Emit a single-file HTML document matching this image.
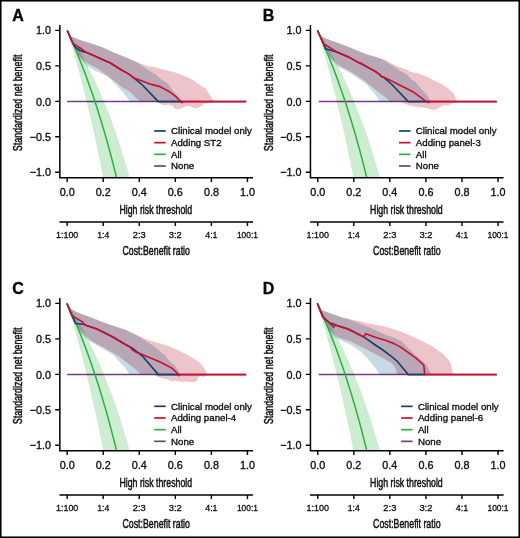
<!DOCTYPE html>
<html><head><meta charset="utf-8"><style>
html,body{margin:0;padding:0;background:#fff;}
body{width:520px;height:538px;position:relative;overflow:hidden;}
svg{position:absolute;left:0;top:0;}
text{font-family:"Liberation Sans",sans-serif;fill:#000;}
.tk{font-size:10.8px;fill:#111;stroke:#111;stroke-width:0.35px;}
.rt{font-size:8.2px;fill:#111;stroke:#111;stroke-width:0.3px;}
.ti{font-size:12.4px;fill:#111;stroke:#111;stroke-width:0.5px;}
.lt{font-size:16px;font-weight:bold;stroke:#000;stroke-width:0.3px;}
.lg{font-size:9.7px;fill:#111;stroke:#111;stroke-width:0.35px;}
</style></head><body>
<svg width="520" height="538" viewBox="0 0 520 538">
<rect x="0" y="0" width="520" height="538" fill="#fff"/>
<g transform="translate(0,0)">
<polyline points="67.20,101.60 246.20,101.60" fill="none" stroke="#754080" stroke-width="1.5"/>
<polygon points="67.15,30.40 68.65,35.35 70.16,40.38 71.66,45.50 73.16,50.71 74.66,56.00 76.17,61.39 77.67,66.88 79.17,72.46 80.67,78.15 82.18,83.93 83.68,89.83 85.18,95.83 86.68,101.95 88.19,108.18 89.69,114.53 91.19,121.00 92.69,127.59 94.20,134.32 95.70,141.18 97.20,148.18 98.70,155.32 100.21,162.60 101.71,170.03 103.13,177.20 129.65,177.20 128.75,174.01 127.25,168.75 125.75,163.63 124.25,158.63 122.74,153.75 121.24,148.99 119.74,144.34 118.24,139.79 116.73,135.36 115.23,131.02 113.73,126.78 112.23,122.63 110.72,118.58 109.22,114.61 107.72,110.73 106.22,106.94 104.71,103.22 103.21,99.58 101.71,96.01 100.21,92.52 98.70,89.09 97.20,85.74 95.70,82.45 94.20,79.23 92.69,76.07 91.19,72.97 89.69,69.93 88.19,66.95 86.68,64.02 85.18,61.14 83.68,58.32 82.18,55.55 80.67,52.84 79.17,50.16 77.67,47.54 76.17,44.96 74.66,42.43 73.16,39.94 71.66,37.49 70.16,35.09 68.65,32.73 67.15,30.40" fill="rgb(205,236,210)" style="mix-blend-mode:multiply"/>
<polygon points="67.30,30.50 70.60,36.50 75.00,37.80 79.40,39.80 87.10,42.20 94.80,44.50 104.00,47.90 113.75,52.60 125.00,56.90 132.70,60.40 140.40,64.60 148.10,70.00 155.80,74.60 161.90,80.00 164.60,81.20 168.30,84.00 172.30,90.00 176.00,94.00 179.60,99.60 181.20,101.60 130.20,101.60 125.20,95.10 120.60,90.00 116.00,84.90 110.00,78.80 106.25,75.60 100.00,73.10 93.75,70.00 87.50,66.25 82.50,61.25 78.75,57.50 72.80,44.00" fill="rgb(200,218,228)" style="mix-blend-mode:multiply"/>
<polygon points="67.30,30.50 70.60,36.50 75.00,37.80 79.40,39.80 87.10,42.20 94.80,44.50 104.00,47.90 113.75,52.60 125.00,56.90 132.70,60.00 140.40,63.50 148.10,66.20 155.80,67.30 160.00,68.50 167.70,70.50 175.40,72.40 183.10,75.50 190.80,78.50 198.10,83.80 205.80,88.50 208.10,92.30 211.20,96.90 213.50,100.80 213.50,102.30 204.20,103.80 201.20,106.20 195.80,108.50 190.40,106.50 186.50,106.20 182.70,107.70 178.10,109.60 175.00,108.80 172.90,106.30 168.30,104.40 162.90,105.20 159.00,102.50 156.00,101.60 140.60,101.60 134.50,96.50 129.80,91.40 122.90,87.70 118.30,84.00 110.00,77.70 97.50,68.50 86.25,62.50 78.75,55.60 72.80,44.00" fill="rgb(238,196,203)" style="mix-blend-mode:multiply"/>
<polyline points="67.15,30.40 68.65,33.68 70.16,37.01 71.66,40.41 73.16,43.86 74.66,47.37 76.17,50.94 77.67,54.57 79.17,58.27 80.67,62.04 82.18,65.88 83.68,69.78 85.18,73.76 86.68,77.81 88.19,81.94 89.69,86.15 91.19,90.43 92.69,94.81 94.20,99.26 95.70,103.81 97.20,108.44 98.70,113.17 100.21,118.00 101.71,122.93 103.21,127.96 104.71,133.09 106.22,138.33 107.72,143.69 109.22,149.16 110.72,154.76 112.23,160.47 113.73,166.32 115.23,172.30 116.44,177.20" fill="none" stroke="#2ab33e" stroke-width="1.5"/>
<polyline points="67.30,30.50 72.80,43.30 74.80,46.80 79.40,50.20 84.00,52.00 85.50,52.00 94.80,56.00 104.00,60.20 110.00,62.80 121.50,70.00 125.00,71.90 129.60,74.60 133.50,77.70 141.40,84.00 158.30,101.60 182.70,101.60" fill="none" stroke="#163e6b" stroke-width="1.6"/>
<polyline points="67.30,30.50 72.80,43.30 79.40,47.50 85.50,52.00 94.80,56.00 104.00,60.20 110.00,62.80 121.50,70.00 125.00,71.90 129.60,74.60 133.50,77.70 140.80,80.40 151.40,84.40 160.00,86.60 168.50,91.20 176.00,96.70 182.00,102.60 183.20,101.60 246.20,101.60" fill="none" stroke="#d00c32" stroke-width="1.6"/>
<path d="M59.85,25 V178.6 M59.1,177.85 H253" stroke="#000" stroke-width="1.5" fill="none"/>
<path d="M55.2,30.40 H59.85 M55.2,65.88 H59.85 M55.2,101.35 H59.85 M55.2,136.82 H59.85 M55.2,172.30 H59.85 M67.15,177.85 V182.1 M103.21,177.85 V182.1 M139.27,177.85 V182.1 M175.33,177.85 V182.1 M211.39,177.85 V182.1 M247.45,177.85 V182.1 " stroke="#000" stroke-width="1.4" fill="none"/>
<path d="M59.5,221.9 H253" stroke="#000" stroke-width="1.5" fill="none"/>
<path d="M67.15,221.9 V226 M103.21,221.9 V226 M139.27,221.9 V226 M175.33,221.9 V226 M211.39,221.9 V226 M247.45,221.9 V226 " stroke="#000" stroke-width="1.4" fill="none"/>
<text x="51" y="34.20" text-anchor="end" class="tk">1.0</text>
<text x="51" y="70.08" text-anchor="end" class="tk">0.5</text>
<text x="51" y="105.55" text-anchor="end" class="tk">0.0</text>
<text x="51" y="141.22" text-anchor="end" class="tk">−0.5</text>
<text x="51" y="175.80" text-anchor="end" class="tk">−1.0</text>
<text x="67.15" y="195.5" text-anchor="middle" class="tk">0.0</text>
<text x="103.21" y="195.5" text-anchor="middle" class="tk">0.2</text>
<text x="139.27" y="195.5" text-anchor="middle" class="tk">0.4</text>
<text x="175.33" y="195.5" text-anchor="middle" class="tk">0.6</text>
<text x="211.39" y="195.5" text-anchor="middle" class="tk">0.8</text>
<text x="247.45" y="195.5" text-anchor="middle" class="tk">1.0</text>
<text x="67.15" y="238.2" text-anchor="middle" class="rt" textLength="22.30" lengthAdjust="spacingAndGlyphs">1:100</text>
<text x="103.21" y="238.2" text-anchor="middle" class="rt" textLength="11.90" lengthAdjust="spacingAndGlyphs">1:4</text>
<text x="139.27" y="238.2" text-anchor="middle" class="rt" textLength="13.00" lengthAdjust="spacingAndGlyphs">2:3</text>
<text x="175.33" y="238.2" text-anchor="middle" class="rt" textLength="13.00" lengthAdjust="spacingAndGlyphs">3:2</text>
<text x="211.39" y="238.2" text-anchor="middle" class="rt" textLength="12.30" lengthAdjust="spacingAndGlyphs">4:1</text>
<text x="247.45" y="238.2" text-anchor="middle" class="rt" textLength="21.00" lengthAdjust="spacingAndGlyphs">100:1</text>
<text x="155.8" y="213.5" text-anchor="middle" class="ti" textLength="72.7" lengthAdjust="spacingAndGlyphs">High risk threshold</text>
<text x="156.2" y="255.1" text-anchor="middle" class="ti" textLength="67.5" lengthAdjust="spacingAndGlyphs">Cost:Benefit ratio</text>
<text transform="translate(21.9,102.9) rotate(-90)" x="0" y="0" text-anchor="middle" class="ti" textLength="96.6" lengthAdjust="spacingAndGlyphs">Standardized net benefit</text>
<text x="12.2" y="20.6" class="lt">A</text>
<path d="M154.20,131.00 H165.70" stroke="#163e6b" stroke-width="1.7"/>
<text x="171.00" y="134.40" class="lg">Clinical model only</text>
<path d="M154.20,142.67 H165.70" stroke="#d00c32" stroke-width="1.7"/>
<text x="171.00" y="146.07" class="lg">Adding ST2</text>
<path d="M154.20,154.34 H165.70" stroke="#2ab33e" stroke-width="1.7"/>
<text x="171.00" y="157.74" class="lg">All</text>
<path d="M154.20,166.01 H165.70" stroke="#754080" stroke-width="1.7"/>
<text x="171.00" y="169.41" class="lg">None</text>
</g>
<g transform="translate(250.6,0)">
<polyline points="68.10,101.60 246.20,101.60" fill="none" stroke="#754080" stroke-width="1.5"/>
<polygon points="66.75,30.40 68.25,35.35 69.75,40.38 71.26,45.50 72.76,50.71 74.26,56.00 75.77,61.39 77.27,66.88 78.77,72.46 80.27,78.15 81.78,83.93 83.28,89.83 84.78,95.83 86.28,101.95 87.78,108.18 89.29,114.53 90.79,121.00 92.29,127.59 93.80,134.32 95.30,141.18 96.80,148.18 98.30,155.32 99.81,162.60 101.31,170.03 102.73,177.20 129.25,177.20 128.35,174.01 126.85,168.75 125.35,163.63 123.84,158.63 122.34,153.75 120.84,148.99 119.34,144.34 117.84,139.79 116.33,135.36 114.83,131.02 113.33,126.78 111.83,122.63 110.32,118.58 108.82,114.61 107.32,110.73 105.81,106.94 104.31,103.22 102.81,99.58 101.31,96.01 99.81,92.52 98.30,89.09 96.80,85.74 95.30,82.45 93.80,79.23 92.29,76.07 90.79,72.97 89.29,69.93 87.78,66.95 86.28,64.02 84.78,61.14 83.28,58.32 81.78,55.55 80.27,52.84 78.77,50.16 77.27,47.54 75.77,44.96 74.26,42.43 72.76,39.94 71.26,37.49 69.75,35.09 68.25,32.73 66.75,30.40" fill="rgb(205,236,210)" style="mix-blend-mode:multiply"/>
<polygon points="66.90,30.50 70.40,36.25 79.20,40.00 91.60,44.40 104.20,49.40 116.60,54.40 125.40,56.90 133.10,60.00 140.80,65.00 148.50,70.00 156.20,74.60 161.60,80.00 165.00,82.00 169.60,87.40 172.70,91.00 175.40,94.00 179.20,99.20 180.00,101.60 129.20,101.60 124.60,94.20 120.00,89.10 116.30,84.50 110.40,80.50 104.20,76.00 100.40,73.50 95.40,70.50 88.00,67.00 85.00,64.00 79.20,58.50 72.90,44.00" fill="rgb(200,218,228)" style="mix-blend-mode:multiply"/>
<polygon points="66.90,30.50 70.40,36.25 79.20,40.00 91.60,44.40 104.20,49.40 116.60,54.40 125.40,56.90 133.10,59.60 140.80,63.50 148.50,66.90 156.20,69.60 160.40,72.00 168.10,73.50 175.80,76.60 183.50,80.50 191.20,84.30 198.50,89.20 203.10,93.80 205.40,98.50 206.20,101.20 204.60,103.00 200.80,103.80 198.50,105.40 194.60,105.00 190.80,106.50 186.90,108.80 183.10,110.00 175.40,108.00 167.70,107.00 162.30,106.30 154.60,104.00 150.80,102.00 149.00,101.60 139.60,101.60 133.90,96.50 129.20,93.20 124.60,89.50 117.70,84.00 112.90,80.00 100.40,71.90 87.90,65.00 79.00,56.00 72.90,44.00" fill="rgb(238,196,203)" style="mix-blend-mode:multiply"/>
<polyline points="66.75,30.40 68.25,33.68 69.75,37.01 71.26,40.41 72.76,43.86 74.26,47.37 75.77,50.94 77.27,54.57 78.77,58.27 80.27,62.04 81.78,65.88 83.28,69.78 84.78,73.76 86.28,77.81 87.78,81.94 89.29,86.15 90.79,90.43 92.29,94.81 93.80,99.26 95.30,103.81 96.80,108.44 98.30,113.17 99.81,118.00 101.31,122.93 102.81,127.96 104.31,133.09 105.81,138.33 107.32,143.69 108.82,149.16 110.32,154.76 111.83,160.47 113.33,166.32 114.83,172.30 116.04,177.20" fill="none" stroke="#2ab33e" stroke-width="1.5"/>
<polyline points="66.90,30.50 72.90,43.60 74.80,48.75 79.20,50.00 86.00,52.00 97.90,56.90 106.60,61.90 110.40,63.50 125.40,71.90 130.00,75.40 131.00,76.60 133.10,77.30 140.80,84.00 157.70,101.60 179.00,101.60" fill="none" stroke="#163e6b" stroke-width="1.6"/>
<polyline points="66.90,30.50 72.90,43.60 79.20,47.60 85.40,51.50 97.90,56.90 106.60,61.90 110.40,63.50 125.40,71.90 130.00,75.40 131.00,76.60 133.10,77.30 138.50,79.60 146.90,84.00 162.30,91.70 173.80,100.20 177.50,102.60 179.00,101.60 246.20,101.60" fill="none" stroke="#d00c32" stroke-width="1.6"/>
<path d="M59.85,25 V178.6 M59.1,177.85 H253" stroke="#000" stroke-width="1.5" fill="none"/>
<path d="M55.2,30.40 H59.85 M55.2,65.88 H59.85 M55.2,101.35 H59.85 M55.2,136.82 H59.85 M55.2,172.30 H59.85 M67.15,177.85 V182.1 M103.21,177.85 V182.1 M139.27,177.85 V182.1 M175.33,177.85 V182.1 M211.39,177.85 V182.1 M247.45,177.85 V182.1 " stroke="#000" stroke-width="1.4" fill="none"/>
<path d="M59.5,221.9 H253" stroke="#000" stroke-width="1.5" fill="none"/>
<path d="M67.15,221.9 V226 M103.21,221.9 V226 M139.27,221.9 V226 M175.33,221.9 V226 M211.39,221.9 V226 M247.45,221.9 V226 " stroke="#000" stroke-width="1.4" fill="none"/>
<text x="51" y="34.20" text-anchor="end" class="tk">1.0</text>
<text x="51" y="70.08" text-anchor="end" class="tk">0.5</text>
<text x="51" y="105.55" text-anchor="end" class="tk">0.0</text>
<text x="51" y="141.22" text-anchor="end" class="tk">−0.5</text>
<text x="51" y="175.80" text-anchor="end" class="tk">−1.0</text>
<text x="67.15" y="195.5" text-anchor="middle" class="tk">0.0</text>
<text x="103.21" y="195.5" text-anchor="middle" class="tk">0.2</text>
<text x="139.27" y="195.5" text-anchor="middle" class="tk">0.4</text>
<text x="175.33" y="195.5" text-anchor="middle" class="tk">0.6</text>
<text x="211.39" y="195.5" text-anchor="middle" class="tk">0.8</text>
<text x="247.45" y="195.5" text-anchor="middle" class="tk">1.0</text>
<text x="67.15" y="238.2" text-anchor="middle" class="rt" textLength="22.30" lengthAdjust="spacingAndGlyphs">1:100</text>
<text x="103.21" y="238.2" text-anchor="middle" class="rt" textLength="11.90" lengthAdjust="spacingAndGlyphs">1:4</text>
<text x="139.27" y="238.2" text-anchor="middle" class="rt" textLength="13.00" lengthAdjust="spacingAndGlyphs">2:3</text>
<text x="175.33" y="238.2" text-anchor="middle" class="rt" textLength="13.00" lengthAdjust="spacingAndGlyphs">3:2</text>
<text x="211.39" y="238.2" text-anchor="middle" class="rt" textLength="12.30" lengthAdjust="spacingAndGlyphs">4:1</text>
<text x="247.45" y="238.2" text-anchor="middle" class="rt" textLength="21.00" lengthAdjust="spacingAndGlyphs">100:1</text>
<text x="155.8" y="213.5" text-anchor="middle" class="ti" textLength="72.7" lengthAdjust="spacingAndGlyphs">High risk threshold</text>
<text x="156.2" y="255.1" text-anchor="middle" class="ti" textLength="67.5" lengthAdjust="spacingAndGlyphs">Cost:Benefit ratio</text>
<text transform="translate(21.9,102.9) rotate(-90)" x="0" y="0" text-anchor="middle" class="ti" textLength="96.6" lengthAdjust="spacingAndGlyphs">Standardized net benefit</text>
<text x="12.2" y="20.6" class="lt">B</text>
<path d="M148.40,131.00 H159.90" stroke="#163e6b" stroke-width="1.7"/>
<text x="165.20" y="134.40" class="lg">Clinical model only</text>
<path d="M148.40,142.67 H159.90" stroke="#d00c32" stroke-width="1.7"/>
<text x="165.20" y="146.07" class="lg">Adding panel-3</text>
<path d="M148.40,154.34 H159.90" stroke="#2ab33e" stroke-width="1.7"/>
<text x="165.20" y="157.74" class="lg">All</text>
<path d="M148.40,166.01 H159.90" stroke="#754080" stroke-width="1.7"/>
<text x="165.20" y="169.41" class="lg">None</text>
</g>
<g transform="translate(0,273)">
<polyline points="67.20,101.60 246.20,101.60" fill="none" stroke="#754080" stroke-width="1.5"/>
<polygon points="67.15,30.40 68.65,35.35 70.16,40.38 71.66,45.50 73.16,50.71 74.66,56.00 76.17,61.39 77.67,66.88 79.17,72.46 80.67,78.15 82.18,83.93 83.68,89.83 85.18,95.83 86.68,101.95 88.19,108.18 89.69,114.53 91.19,121.00 92.69,127.59 94.20,134.32 95.70,141.18 97.20,148.18 98.70,155.32 100.21,162.60 101.71,170.03 103.13,177.20 129.65,177.20 128.75,174.01 127.25,168.75 125.75,163.63 124.25,158.63 122.74,153.75 121.24,148.99 119.74,144.34 118.24,139.79 116.73,135.36 115.23,131.02 113.73,126.78 112.23,122.63 110.72,118.58 109.22,114.61 107.72,110.73 106.22,106.94 104.71,103.22 103.21,99.58 101.71,96.01 100.21,92.52 98.70,89.09 97.20,85.74 95.70,82.45 94.20,79.23 92.69,76.07 91.19,72.97 89.69,69.93 88.19,66.95 86.68,64.02 85.18,61.14 83.68,58.32 82.18,55.55 80.67,52.84 79.17,50.16 77.67,47.54 76.17,44.96 74.66,42.43 73.16,39.94 71.66,37.49 70.16,35.09 68.65,32.73 67.15,30.40" fill="rgb(205,236,210)" style="mix-blend-mode:multiply"/>
<polygon points="66.90,30.50 70.00,35.60 78.75,40.00 91.25,44.40 103.75,49.40 116.25,53.75 125.00,56.50 132.70,60.40 140.40,64.60 148.10,69.60 155.80,74.60 161.90,80.00 164.60,82.00 169.20,87.40 171.50,90.00 175.00,92.70 178.80,98.50 180.40,101.60 129.60,101.60 125.20,95.10 120.60,90.00 116.00,84.90 112.50,81.50 100.00,73.90 90.00,68.50 82.50,62.00 78.75,58.00 71.90,43.50" fill="rgb(200,218,228)" style="mix-blend-mode:multiply"/>
<polygon points="66.90,30.50 70.00,35.60 78.75,40.00 91.25,44.40 103.75,49.40 116.25,53.75 125.00,56.50 132.70,60.00 140.40,63.80 148.10,66.90 155.80,69.20 160.00,70.50 167.70,72.80 175.40,75.80 183.10,79.70 190.40,83.50 198.10,88.50 202.70,93.10 205.80,97.70 206.50,100.40 205.80,102.30 203.50,104.60 201.20,103.10 198.10,104.60 196.50,108.50 191.90,109.20 186.50,108.50 182.70,108.80 175.00,107.50 172.90,108.60 166.80,106.30 159.10,104.40 155.20,102.50 153.00,101.60 141.40,101.60 134.50,95.50 129.80,91.80 125.20,88.60 119.70,84.00 116.00,81.50 100.00,72.50 90.00,66.90 79.00,56.00 71.90,43.50" fill="rgb(238,196,203)" style="mix-blend-mode:multiply"/>
<polyline points="67.15,30.40 68.65,33.68 70.16,37.01 71.66,40.41 73.16,43.86 74.66,47.37 76.17,50.94 77.67,54.57 79.17,58.27 80.67,62.04 82.18,65.88 83.68,69.78 85.18,73.76 86.68,77.81 88.19,81.94 89.69,86.15 91.19,90.43 92.69,94.81 94.20,99.26 95.70,103.81 97.20,108.44 98.70,113.17 100.21,118.00 101.71,122.93 103.21,127.96 104.71,133.09 106.22,138.33 107.72,143.69 109.22,149.16 110.72,154.76 112.23,160.47 113.73,166.32 115.23,172.30 116.44,177.20" fill="none" stroke="#2ab33e" stroke-width="1.5"/>
<polyline points="66.90,30.50 71.90,42.70 75.60,50.60 83.75,51.25 85.00,51.90 97.50,56.25 100.00,57.50 112.50,63.75 125.00,71.20 129.60,73.80 132.70,75.40 137.30,79.20 143.30,84.00 158.30,101.60 180.00,101.60" fill="none" stroke="#163e6b" stroke-width="1.6"/>
<polyline points="66.90,30.50 71.90,42.70 82.50,48.75 85.00,51.90 97.50,56.25 100.00,57.50 112.50,63.75 125.00,71.20 129.60,73.80 131.90,76.50 136.50,79.60 140.00,80.60 146.80,83.60 158.50,88.30 165.00,91.50 171.90,95.10 176.50,99.50 178.80,102.60 180.20,101.60 246.20,101.60" fill="none" stroke="#d00c32" stroke-width="1.6"/>
<path d="M59.85,25 V178.6 M59.1,177.85 H253" stroke="#000" stroke-width="1.5" fill="none"/>
<path d="M55.2,30.40 H59.85 M55.2,65.88 H59.85 M55.2,101.35 H59.85 M55.2,136.82 H59.85 M55.2,172.30 H59.85 M67.15,177.85 V182.1 M103.21,177.85 V182.1 M139.27,177.85 V182.1 M175.33,177.85 V182.1 M211.39,177.85 V182.1 M247.45,177.85 V182.1 " stroke="#000" stroke-width="1.4" fill="none"/>
<path d="M59.5,221.9 H253" stroke="#000" stroke-width="1.5" fill="none"/>
<path d="M67.15,221.9 V226 M103.21,221.9 V226 M139.27,221.9 V226 M175.33,221.9 V226 M211.39,221.9 V226 M247.45,221.9 V226 " stroke="#000" stroke-width="1.4" fill="none"/>
<text x="51" y="34.20" text-anchor="end" class="tk">1.0</text>
<text x="51" y="70.08" text-anchor="end" class="tk">0.5</text>
<text x="51" y="105.55" text-anchor="end" class="tk">0.0</text>
<text x="51" y="141.22" text-anchor="end" class="tk">−0.5</text>
<text x="51" y="175.80" text-anchor="end" class="tk">−1.0</text>
<text x="67.15" y="195.5" text-anchor="middle" class="tk">0.0</text>
<text x="103.21" y="195.5" text-anchor="middle" class="tk">0.2</text>
<text x="139.27" y="195.5" text-anchor="middle" class="tk">0.4</text>
<text x="175.33" y="195.5" text-anchor="middle" class="tk">0.6</text>
<text x="211.39" y="195.5" text-anchor="middle" class="tk">0.8</text>
<text x="247.45" y="195.5" text-anchor="middle" class="tk">1.0</text>
<text x="67.15" y="238.2" text-anchor="middle" class="rt" textLength="22.30" lengthAdjust="spacingAndGlyphs">1:100</text>
<text x="103.21" y="238.2" text-anchor="middle" class="rt" textLength="11.90" lengthAdjust="spacingAndGlyphs">1:4</text>
<text x="139.27" y="238.2" text-anchor="middle" class="rt" textLength="13.00" lengthAdjust="spacingAndGlyphs">2:3</text>
<text x="175.33" y="238.2" text-anchor="middle" class="rt" textLength="13.00" lengthAdjust="spacingAndGlyphs">3:2</text>
<text x="211.39" y="238.2" text-anchor="middle" class="rt" textLength="12.30" lengthAdjust="spacingAndGlyphs">4:1</text>
<text x="247.45" y="238.2" text-anchor="middle" class="rt" textLength="21.00" lengthAdjust="spacingAndGlyphs">100:1</text>
<text x="155.8" y="213.5" text-anchor="middle" class="ti" textLength="72.7" lengthAdjust="spacingAndGlyphs">High risk threshold</text>
<text x="156.2" y="255.1" text-anchor="middle" class="ti" textLength="67.5" lengthAdjust="spacingAndGlyphs">Cost:Benefit ratio</text>
<text transform="translate(21.9,102.9) rotate(-90)" x="0" y="0" text-anchor="middle" class="ti" textLength="96.6" lengthAdjust="spacingAndGlyphs">Standardized net benefit</text>
<text x="12.2" y="20.6" class="lt">C</text>
<path d="M154.20,133.30 H165.70" stroke="#163e6b" stroke-width="1.7"/>
<text x="171.00" y="136.70" class="lg">Clinical model only</text>
<path d="M154.20,144.97 H165.70" stroke="#d00c32" stroke-width="1.7"/>
<text x="171.00" y="148.37" class="lg">Adding panel-4</text>
<path d="M154.20,156.64 H165.70" stroke="#2ab33e" stroke-width="1.7"/>
<text x="171.00" y="160.04" class="lg">All</text>
<path d="M154.20,168.31 H165.70" stroke="#754080" stroke-width="1.7"/>
<text x="171.00" y="171.71" class="lg">None</text>
</g>
<g transform="translate(250.6,273)">
<polyline points="68.10,101.60 246.20,101.60" fill="none" stroke="#754080" stroke-width="1.5"/>
<polygon points="66.75,30.40 68.25,35.35 69.75,40.38 71.26,45.50 72.76,50.71 74.26,56.00 75.77,61.39 77.27,66.88 78.77,72.46 80.27,78.15 81.78,83.93 83.28,89.83 84.78,95.83 86.28,101.95 87.78,108.18 89.29,114.53 90.79,121.00 92.29,127.59 93.80,134.32 95.30,141.18 96.80,148.18 98.30,155.32 99.81,162.60 101.31,170.03 102.73,177.20 129.25,177.20 128.35,174.01 126.85,168.75 125.35,163.63 123.84,158.63 122.34,153.75 120.84,148.99 119.34,144.34 117.84,139.79 116.33,135.36 114.83,131.02 113.33,126.78 111.83,122.63 110.32,118.58 108.82,114.61 107.32,110.73 105.81,106.94 104.31,103.22 102.81,99.58 101.31,96.01 99.81,92.52 98.30,89.09 96.80,85.74 95.30,82.45 93.80,79.23 92.29,76.07 90.79,72.97 89.29,69.93 87.78,66.95 86.28,64.02 84.78,61.14 83.28,58.32 81.78,55.55 80.27,52.84 78.77,50.16 77.27,47.54 75.77,44.96 74.26,42.43 72.76,39.94 71.26,37.49 69.75,35.09 68.25,32.73 66.75,30.40" fill="rgb(205,236,210)" style="mix-blend-mode:multiply"/>
<polygon points="66.65,30.30 70.40,36.90 79.20,40.00 91.60,44.40 95.40,45.50 103.10,48.20 110.80,51.20 118.50,54.30 126.20,57.80 135.40,62.00 143.10,64.60 150.80,68.10 156.20,73.50 165.40,82.80 173.10,89.20 176.90,93.80 180.80,101.60 129.20,101.60 124.20,94.20 119.60,88.60 115.50,84.00 110.40,78.75 100.40,71.90 87.90,66.25 85.40,65.00 79.20,60.00 72.30,45.00" fill="rgb(200,218,228)" style="mix-blend-mode:multiply"/>
<polygon points="66.65,30.30 70.40,36.90 79.20,40.00 91.60,44.40 95.40,45.10 103.10,47.00 110.80,48.50 118.50,50.50 126.20,52.00 135.40,53.80 143.10,56.20 150.80,58.80 158.50,61.90 165.40,65.10 173.10,68.90 180.80,72.80 188.50,78.20 192.30,80.50 196.20,85.10 199.20,88.50 200.80,92.30 201.90,99.20 202.20,101.60 146.90,101.60 144.60,94.70 140.80,90.10 133.10,85.50 125.40,81.40 112.90,75.00 100.40,68.75 87.90,64.40 79.00,57.00 72.30,45.00" fill="rgb(238,196,203)" style="mix-blend-mode:multiply"/>
<polyline points="66.75,30.40 68.25,33.68 69.75,37.01 71.26,40.41 72.76,43.86 74.26,47.37 75.77,50.94 77.27,54.57 78.77,58.27 80.27,62.04 81.78,65.88 83.28,69.78 84.78,73.76 86.28,77.81 87.78,81.94 89.29,86.15 90.79,90.43 92.29,94.81 93.80,99.26 95.30,103.81 96.80,108.44 98.30,113.17 99.81,118.00 101.31,122.93 102.81,127.96 104.31,133.09 105.81,138.33 107.32,143.69 108.82,149.16 110.32,154.76 111.83,160.47 113.33,166.32 114.83,172.30 116.04,177.20" fill="none" stroke="#2ab33e" stroke-width="1.5"/>
<polyline points="66.65,30.30 72.30,44.20 79.80,50.60 81.60,50.60 84.80,51.90 97.90,56.25 113.10,63.90 125.40,72.50 132.30,77.00 140.40,83.10 146.20,87.80 157.70,101.60 174.20,101.60" fill="none" stroke="#163e6b" stroke-width="1.6"/>
<polyline points="66.65,30.30 72.30,44.20 79.80,50.60 82.90,54.20 84.80,51.90 97.90,56.25 113.10,63.90 115.10,60.80 125.40,64.40 135.40,67.40 143.10,70.40 150.80,74.60 165.40,85.20 173.10,91.80 174.20,101.60 246.20,101.60" fill="none" stroke="#d00c32" stroke-width="1.6"/>
<path d="M59.85,25 V178.6 M59.1,177.85 H253" stroke="#000" stroke-width="1.5" fill="none"/>
<path d="M55.2,30.40 H59.85 M55.2,65.88 H59.85 M55.2,101.35 H59.85 M55.2,136.82 H59.85 M55.2,172.30 H59.85 M67.15,177.85 V182.1 M103.21,177.85 V182.1 M139.27,177.85 V182.1 M175.33,177.85 V182.1 M211.39,177.85 V182.1 M247.45,177.85 V182.1 " stroke="#000" stroke-width="1.4" fill="none"/>
<path d="M59.5,221.9 H253" stroke="#000" stroke-width="1.5" fill="none"/>
<path d="M67.15,221.9 V226 M103.21,221.9 V226 M139.27,221.9 V226 M175.33,221.9 V226 M211.39,221.9 V226 M247.45,221.9 V226 " stroke="#000" stroke-width="1.4" fill="none"/>
<text x="51" y="34.20" text-anchor="end" class="tk">1.0</text>
<text x="51" y="70.08" text-anchor="end" class="tk">0.5</text>
<text x="51" y="105.55" text-anchor="end" class="tk">0.0</text>
<text x="51" y="141.22" text-anchor="end" class="tk">−0.5</text>
<text x="51" y="175.80" text-anchor="end" class="tk">−1.0</text>
<text x="67.15" y="195.5" text-anchor="middle" class="tk">0.0</text>
<text x="103.21" y="195.5" text-anchor="middle" class="tk">0.2</text>
<text x="139.27" y="195.5" text-anchor="middle" class="tk">0.4</text>
<text x="175.33" y="195.5" text-anchor="middle" class="tk">0.6</text>
<text x="211.39" y="195.5" text-anchor="middle" class="tk">0.8</text>
<text x="247.45" y="195.5" text-anchor="middle" class="tk">1.0</text>
<text x="67.15" y="238.2" text-anchor="middle" class="rt" textLength="22.30" lengthAdjust="spacingAndGlyphs">1:100</text>
<text x="103.21" y="238.2" text-anchor="middle" class="rt" textLength="11.90" lengthAdjust="spacingAndGlyphs">1:4</text>
<text x="139.27" y="238.2" text-anchor="middle" class="rt" textLength="13.00" lengthAdjust="spacingAndGlyphs">2:3</text>
<text x="175.33" y="238.2" text-anchor="middle" class="rt" textLength="13.00" lengthAdjust="spacingAndGlyphs">3:2</text>
<text x="211.39" y="238.2" text-anchor="middle" class="rt" textLength="12.30" lengthAdjust="spacingAndGlyphs">4:1</text>
<text x="247.45" y="238.2" text-anchor="middle" class="rt" textLength="21.00" lengthAdjust="spacingAndGlyphs">100:1</text>
<text x="155.8" y="213.5" text-anchor="middle" class="ti" textLength="72.7" lengthAdjust="spacingAndGlyphs">High risk threshold</text>
<text x="156.2" y="255.1" text-anchor="middle" class="ti" textLength="67.5" lengthAdjust="spacingAndGlyphs">Cost:Benefit ratio</text>
<text transform="translate(21.9,102.9) rotate(-90)" x="0" y="0" text-anchor="middle" class="ti" textLength="96.6" lengthAdjust="spacingAndGlyphs">Standardized net benefit</text>
<text x="12.2" y="20.6" class="lt">D</text>
<path d="M150.50,133.35 H162.00" stroke="#163e6b" stroke-width="1.7"/>
<text x="167.30" y="136.75" class="lg">Clinical model only</text>
<path d="M150.50,145.02 H162.00" stroke="#d00c32" stroke-width="1.7"/>
<text x="167.30" y="148.42" class="lg">Adding panel-6</text>
<path d="M150.50,156.69 H162.00" stroke="#2ab33e" stroke-width="1.7"/>
<text x="167.30" y="160.09" class="lg">All</text>
<path d="M150.50,168.36 H162.00" stroke="#754080" stroke-width="1.7"/>
<text x="167.30" y="171.76" class="lg">None</text>
</g>
<rect x="0.75" y="0.75" width="518.5" height="536.5" fill="none" stroke="#000" stroke-width="1.6"/>
</svg>
</body></html>
